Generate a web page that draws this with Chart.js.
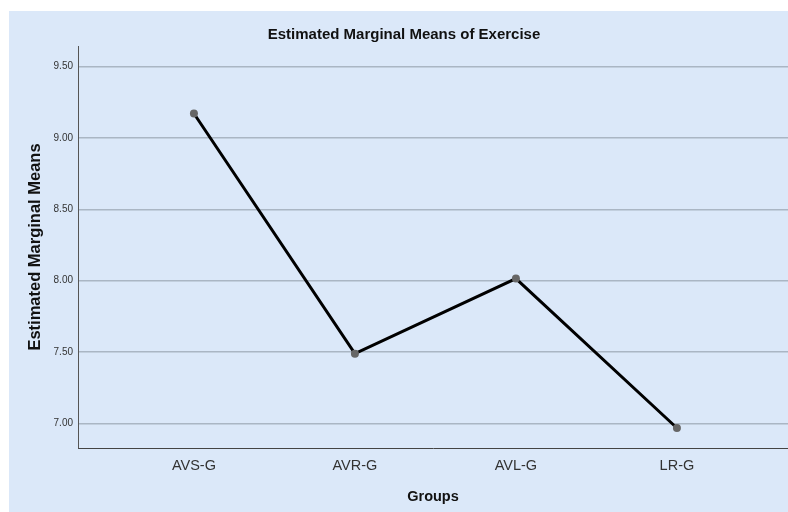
<!DOCTYPE html>
<html>
<head>
<meta charset="utf-8">
<script src="https://cdn.jsdelivr.net/npm/chart.js@4.4.1/dist/chart.umd.min.js"></script>
<style>
  html, body { margin: 0; padding: 0; background: #fff; }
  #chart { display: block; }
</style>
</head>
<body>
<canvas id="chart" width="788" height="512"></canvas>
<script>
// values
const groups = ['AVS-G', 'AVR-G', 'AVL-G', 'LR-G'];
const means = [9.17, 7.49, 8.015, 6.97];
const yTicks = [7.0, 7.5, 8.0, 8.5, 9.0, 9.5];

const panelBg = {
  id: 'panelBg',
  beforeDraw(chart) {
    const ctx = chart.ctx;
    ctx.save();
    ctx.fillStyle = '#dbe8f9';
    ctx.fillRect(9, 11, chart.width - 9, chart.height - 11);
    ctx.restore();
  }
};

new Chart(document.getElementById('chart'), {
  type: 'line',
  data: {
    datasets: [{
      data: means.map((v, i) => ({ x: i, y: v })),
      borderColor: '#000',
      borderWidth: 3,
      pointRadius: 4,
      pointBackgroundColor: '#666',
      pointBorderColor: '#666',
      pointBorderWidth: 0,
      tension: 0,
      clip: false
    }]
  },
  options: {
    responsive: false,
    animation: false,
    devicePixelRatio: 1,
    layout: { autoPadding: false, padding: { left: 20, right: 0, top: 0, bottom: 0 } },
    plugins: {
      legend: { display: false },
      tooltip: { enabled: false },
      title: {
        display: true,
        text: 'Estimated Marginal Means of Exercise',
        color: '#111',
        font: { family: 'Liberation Sans, Arial', size: 15, weight: 'bold' },
        padding: { top: 26, bottom: 2 }
      }
    },
    scales: {
      x: {
        type: 'linear',
        min: -0.72,
        max: 3.69,
        afterBuildTicks: s => { s.ticks = groups.map((g, i) => ({ value: i })); },
        afterFit: s => { s.height = 64; },
        ticks: {
          callback: v => groups[v],
          color: '#333',
          font: { family: 'Liberation Sans, Arial', size: 14.5 },
          padding: 9,
          maxRotation: 0
        },
        grid: { display: false, drawTicks: false },
        border: { display: true, color: '#444', width: 1 },
        title: {
          display: true,
          text: 'Groups',
          color: '#111',
          font: { family: 'Liberation Sans, Arial', size: 14.5, weight: 'bold' },
          padding: { top: 6, bottom: 6 }
        }
      },
      y: {
        min: 6.83,
        max: 9.642,
        afterBuildTicks: s => { s.ticks = yTicks.map(v => ({ value: v })); },
        afterFit: s => { s.width = 58; },
        ticks: {
          callback: v => v.toFixed(2),
          color: '#333',
          font: { family: 'Liberation Sans, Arial', size: 10 },
          padding: 5
        },
        grid: { color: '#aab6c4', lineWidth: 1.5, drawTicks: false },
        border: { display: true, color: '#555', width: 1 },
        title: {
          display: true,
          text: 'Estimated Marginal Means',
          color: '#111',
          font: { family: 'Liberation Sans, Arial', size: 16.5, weight: 'bold' },
          padding: { top: 6, bottom: 6 }
        }
      }
    }
  },
  plugins: [panelBg]
});
</script>
</body>
</html>
